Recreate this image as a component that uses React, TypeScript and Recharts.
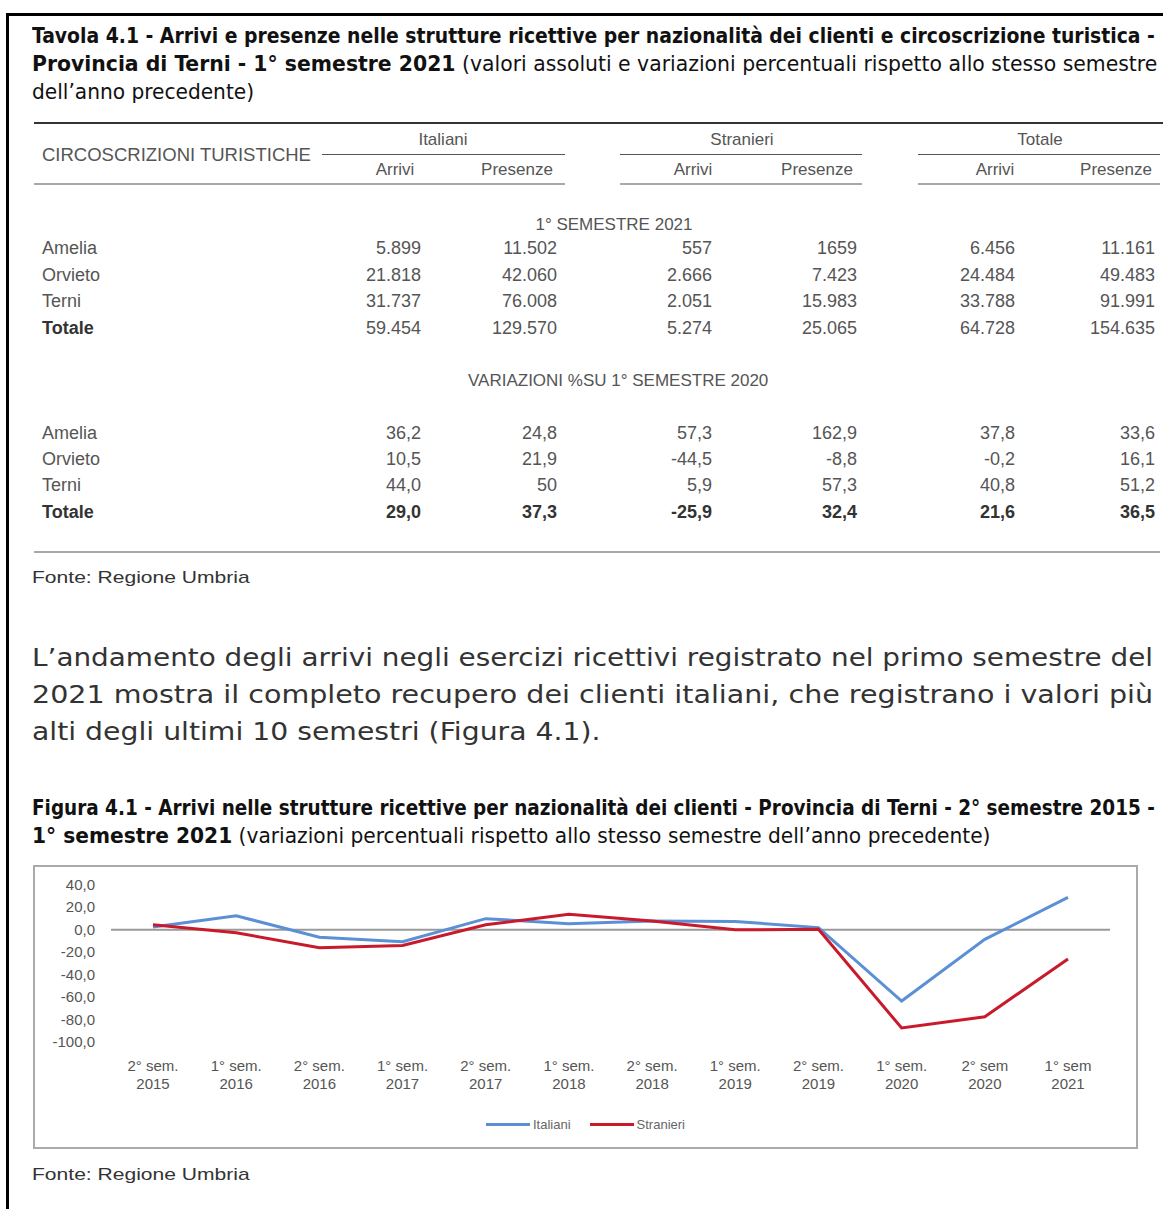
import React, { useLayoutEffect, useRef, useState } from 'react';
import { LineChart, Line, XAxis, YAxis, ReferenceLine, Legend } from 'recharts';

// --- chart data (variazioni % arrivi, Provincia di Terni) ---
const semLabels = ['2° sem.', '1° sem.', '2° sem.', '1° sem.', '2° sem.', '1° sem.', '2° sem.', '1° sem.', '2° sem.', '1° sem.', '2° sem', '1° sem'];
const years = ['2015', '2016', '2016', '2017', '2017', '2018', '2018', '2019', '2019', '2020', '2020', '2021'];
const italiani = [2.5, 12.5, -6.5, -10.5, 10, 5.5, 8, 7.5, 2, -63.5, -8.5, 29.0];
const stranieri = [4.5, -2.5, -16, -14, 4.5, 14, 8, 0, 0.5, -87.5, -77.5, -25.9];
const yTicks = [-100, -80, -60, -40, -20, 0, 20, 40];

// --- table data ---
const districts = ['Amelia', 'Orvieto', 'Terni', 'Totale'];
const absItaArrivi = ['5.899', '21.818', '31.737', '59.454'];
const absItaPresenze = ['11.502', '42.060', '76.008', '129.570'];
const absStrArrivi = ['557', '2.666', '2.051', '5.274'];
const absStrPresenze = ['1659', '7.423', '15.983', '25.065'];
const absTotArrivi = ['6.456', '24.484', '33.788', '64.728'];
const absTotPresenze = ['11.161', '49.483', '91.991', '154.635'];
const varItaArrivi = ['36,2', '10,5', '44,0', '29,0'];
const varItaPresenze = ['24,8', '21,9', '50', '37,3'];
const varStrArrivi = ['57,3', '-44,5', '5,9', '-25,9'];
const varStrPresenze = ['162,9', '-8,8', '57,3', '32,4'];
const varTotArrivi = ['37,8', '-0,2', '40,8', '21,6'];
const varTotPresenze = ['33,6', '16,1', '51,2', '36,5'];

const BLUE = '#5b8fd6';
const RED = '#c91a2c';
const TABLE_FONT = '"Liberation Sans", Arial, sans-serif';
const COND_FONT = '"DejaVu Sans Condensed", "DejaVu Sans", sans-serif';

// text line scaled horizontally to a target width
const Fit = ({ x, y, w, size, family, color = '#222', stretch = 'normal', children }: any) => {
  const ref = useRef<HTMLDivElement>(null);
  const [k, setK] = useState(1);
  useLayoutEffect(() => {
    if (ref.current && ref.current.offsetWidth > 0) setK(w / ref.current.offsetWidth);
  }, [w]);
  return (
    <div
      ref={ref}
      style={{
        position: 'absolute', left: x, top: y - size * 0.58, whiteSpace: 'nowrap',
        fontSize: size, lineHeight: `${size * 1.2}px`, fontFamily: family, color,
        fontStretch: stretch,
        transform: `scaleX(${k})`, transformOrigin: 'left center',
      }}
    >
      {children}
    </div>
  );
};

const Txt = ({ x, y, align = 'left', bold = false, size = 18, color = '#555', children }: any) => {
  const w = 300;
  const left = align === 'left' ? x : align === 'right' ? x - w : x - w / 2;
  return (
    <div style={{
      position: 'absolute', left, top: y - size * 0.59, width: w, textAlign: align,
      fontSize: size, lineHeight: `${size * 1.2}px`, whiteSpace: 'nowrap',
      fontFamily: TABLE_FONT, fontWeight: bold ? 700 : 400, color: bold ? '#333' : color,
    }}>{children}</div>
  );
};

const HLine = ({ x1, x2, y, t = 1, color = '#666' }: any) => (
  <div style={{ position: 'absolute', left: x1, top: y - t / 2, width: x2 - x1, height: t, background: color }} />
);

const colRights = [421, 557, 712, 857, 1015, 1155];
const absCols = [absItaArrivi, absItaPresenze, absStrArrivi, absStrPresenze, absTotArrivi, absTotPresenze];
const varCols = [varItaArrivi, varItaPresenze, varStrArrivi, varStrPresenze, varTotArrivi, varTotPresenze];
const absRowsY = [249, 276, 302, 329];
const varRowsY = [434, 460, 486, 513];

const chartData = semLabels.map((s, i) => ({
  period: `${s} ${years[i]}`,
  italiani: italiani[i],
  stranieri: stranieri[i],
}));

const XTick = (props: any) => {
  const { x, y, index } = props;
  return (
    <text x={x} y={y} textAnchor="middle" fill="#555" fontSize={15} fontFamily={TABLE_FONT}>
      <tspan x={x} dy={29}>{semLabels[index]}</tspan>
      <tspan x={x} dy={18}>{years[index]}</tspan>
    </text>
  );
};

const YTick = (props: any) => {
  const { x, y, payload } = props;
  return (
    <text x={x} y={y} dy={5} textAnchor="end" fill="#555" fontSize={15} fontFamily={TABLE_FONT}>
      {Number(payload.value).toFixed(1).replace('.', ',')}
    </text>
  );
};

const renderLegend = () => (
  <div style={{ display: 'flex', justifyContent: 'center', alignItems: 'center', gap: 19, fontSize: 13, fontFamily: TABLE_FONT, color: '#666' }}>
    {[['Italiani', BLUE], ['Stranieri', RED]].map(([name, c]) => (
      <span key={name} style={{ display: 'flex', alignItems: 'center' }}>
        <span style={{ display: 'inline-block', width: 44, height: 3, background: c, marginRight: 3 }} />
        {name}
      </span>
    ))}
  </div>
);

export default function App() {
  return (
    <div style={{ position: 'absolute', left: 0, top: 0, width: 1163, height: 1209, background: '#fff', overflow: 'hidden' }}>
      {/* page frame */}
      <div style={{ position: 'absolute', left: 6, top: 13, width: 1200, height: 1250, borderLeft: '3px solid #000', borderTop: '3px solid #000' }} />

      {/* table title */}
      <Fit x={32} y={36} w={1123} size={22} family={COND_FONT} stretch="condensed" color="#111">
        <b>Tavola 4.1 - Arrivi e presenze nelle strutture ricettive per nazionalità dei clienti e circoscrizione turistica -</b>
      </Fit>
      <Fit x={32} y={64} w={1125} size={22} family={COND_FONT} stretch="condensed" color="#111">
        <b>Provincia di Terni - 1° semestre 2021</b> (valori assoluti e variazioni percentuali rispetto allo stesso semestre
      </Fit>
      <Fit x={32} y={92} w={222} size={22} family={COND_FONT} stretch="condensed" color="#111">dell’anno precedente)</Fit>

      {/* table rules */}
      <HLine x1={34} x2={1163} y={123} t={2} color="#333" />
      <HLine x1={322} x2={565} y={154} t={1} color="#555" />
      <HLine x1={620} x2={862} y={154} t={1} color="#555" />
      <HLine x1={918} x2={1160} y={154} t={1} color="#555" />
      <HLine x1={34} x2={565} y={184} t={2} color="#aaa" />
      <HLine x1={620} x2={862} y={184} t={2} color="#aaa" />
      <HLine x1={918} x2={1160} y={184} t={2} color="#aaa" />
      <HLine x1={34} x2={1160} y={552} t={2} color="#aaa" />

      {/* table header */}
      <Txt x={42} y={155} size={18.5}>CIRCOSCRIZIONI TURISTICHE</Txt>
      <Txt x={443} y={140} align="center" size={17}>Italiani</Txt>
      <Txt x={742} y={140} align="center" size={17}>Stranieri</Txt>
      <Txt x={1040} y={140} align="center" size={17}>Totale</Txt>
      {[395, 693, 995].map((cx) => <Txt key={'a' + cx} x={cx} y={170} align="center" size={17}>Arrivi</Txt>)}
      {[517, 817, 1116].map((cx) => <Txt key={'p' + cx} x={cx} y={170} align="center" size={17}>Presenze</Txt>)}

      <Txt x={614} y={225} align="center" size={17}>1° SEMESTRE 2021</Txt>
      {districts.map((d, r) => (
        <React.Fragment key={'abs' + d}>
          <Txt x={42} y={absRowsY[r]} bold={d === 'Totale'}>{d}</Txt>
          {absCols.map((col, c) => <Txt key={c} x={colRights[c]} y={absRowsY[r]} align="right">{col[r]}</Txt>)}
        </React.Fragment>
      ))}

      <Txt x={618} y={381} align="center" size={17}>VARIAZIONI %SU 1° SEMESTRE 2020</Txt>
      {districts.map((d, r) => (
        <React.Fragment key={'var' + d}>
          <Txt x={42} y={varRowsY[r]} bold={d === 'Totale'}>{d}</Txt>
          {varCols.map((col, c) => <Txt key={c} x={colRights[c]} y={varRowsY[r]} align="right" bold={d === 'Totale'}>{col[r]}</Txt>)}
        </React.Fragment>
      ))}

      <Fit x={32} y={578} w={218} size={17} family={TABLE_FONT} color="#333">Fonte: Regione Umbria</Fit>

      {/* paragraph */}
      <Fit x={32} y={657} w={1121} size={25} family='"DejaVu Sans", sans-serif' color="#333">
        L’andamento degli arrivi negli esercizi ricettivi registrato nel primo semestre del
      </Fit>
      <Fit x={32} y={694} w={1121} size={25} family='"DejaVu Sans", sans-serif' color="#333">
        2021 mostra il completo recupero dei clienti italiani, che registrano i valori più
      </Fit>
      <Fit x={32} y={731} w={569} size={25} family='"DejaVu Sans", sans-serif' color="#333">
        alti degli ultimi 10 semestri (Figura 4.1).
      </Fit>

      {/* figure title */}
      <Fit x={32} y={808} w={1123} size={22} family={COND_FONT} stretch="condensed" color="#111">
        <b>Figura 4.1 - Arrivi nelle strutture ricettive per nazionalità dei clienti - Provincia di Terni - 2° semestre 2015 -</b>
      </Fit>
      <Fit x={32} y={836} w={958} size={22} family={COND_FONT} stretch="condensed" color="#111">
        <b>1° semestre 2021</b> (variazioni percentuali rispetto allo stesso semestre dell’anno precedente)
      </Fit>

      {/* chart */}
      <div style={{ position: 'absolute', left: 33, top: 865, width: 1105, height: 284, border: '2px solid #aaa', boxSizing: 'border-box', background: '#fff' }}>
        <LineChart width={1101} height={280} data={chartData} margin={{ top: 18, right: 26, bottom: 45, left: 16 }}>
          <XAxis
            dataKey="period"
            interval={0}
            padding={{ left: 42, right: 42 }}
            axisLine={false}
            tickLine={false}
            tickSize={0}
            tickMargin={0}
            height={60}
            tick={<XTick />}
          />
          <YAxis
            type="number"
            domain={[-100, 40]}
            ticks={yTicks}
            interval={0}
            axisLine={false}
            tickLine={false}
            tickSize={0}
            tickMargin={16}
            width={60}
            tick={<YTick />}
          />
          <ReferenceLine y={0} stroke="#9a9a9a" strokeWidth={2} />
          <Legend
            verticalAlign="middle"
            align="center"
            layout="horizontal"
            content={renderLegend}
            wrapperStyle={{ left: 0, top: 250, width: 1101, height: 18 }}
          />
          <Line type="linear" dataKey="italiani" name="Italiani" stroke={BLUE} strokeWidth={3} dot={false} isAnimationActive={false} />
          <Line type="linear" dataKey="stranieri" name="Stranieri" stroke={RED} strokeWidth={3} dot={false} isAnimationActive={false} />
        </LineChart>
      </div>

      <Fit x={32} y={1175} w={218} size={17} family={TABLE_FONT} color="#333">Fonte: Regione Umbria</Fit>
    </div>
  );
}
